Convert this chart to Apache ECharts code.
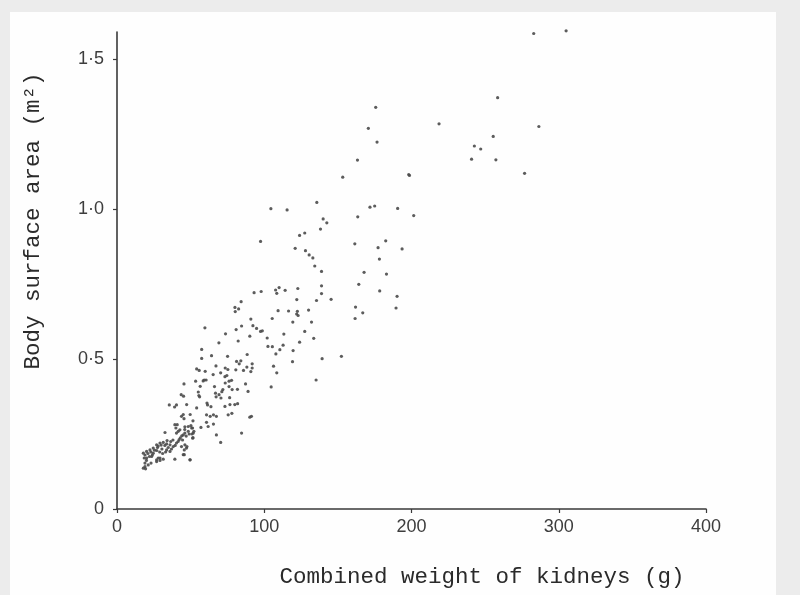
<!DOCTYPE html>
<html><head><meta charset="utf-8">
<script src="https://cdn.jsdelivr.net/npm/echarts@6/dist/echarts.min.js"></script>
<style>
html,body{margin:0;padding:0;background:#ececec;overflow:hidden;}
#paper{position:absolute;left:10px;top:12px;width:766px;height:583px;background:#fefefe;}
#chart{position:absolute;left:0;top:0;width:800px;height:595px;}
</style>
</head><body><div id="paper"></div><div id="chart"></div>
<script>
// tick values and labels
const xTicks = [0, 100, 200, 300, 400];
const yTicks = [0, 0.5, 1.0, 1.5];
const yTickLabels = ['0', '0·5', '1·0', '1·5'];
const xTitle = 'Combined weight of kidneys (g)';
const yTitle = 'Body surface area (m²)';

// [combined kidney weight (g), body surface area (m²)]
const pointsLarge = [
  [283,1.585],[305,1.594],[258.5,1.371],[218.7,1.284],[286.5,1.275],[255.5,1.242],[242.7,1.21],[247,1.2],
  [240.8,1.166],[257.3,1.164],[276.8,1.119],
  [175.7,1.339],[170.7,1.269],[176.6,1.223],[163.3,1.163],[153.3,1.106],[198.1,1.115],[198.6,1.112],
  [171.8,1.006],[175,1.01],[190.6,1.002],[163.5,0.974],[201.5,0.978],[140,0.967],[142.5,0.954],[138.2,0.933],
  [161.5,0.884],[182.5,0.894],[177.3,0.871],[193.6,0.867],[178.2,0.833],[138.9,0.792],[167.8,0.789],[183,0.783],
  [164.2,0.749],[138.9,0.744],[138.9,0.718],[145.4,0.699],[178.4,0.727],[190.2,0.709],[189.5,0.67],[162,0.673],
  [166.9,0.654],[161.7,0.635]
];
const pointsMid = [
  [104.5,1.001],[115.5,0.997],[135.7,1.022],[97.5,0.892],[124,0.912],[127.5,0.92],[121,0.869],[128,0.861],
  [130.5,0.847],[133,0.837],[134.3,0.81],
  [93.1,0.721],[97.9,0.725],[107.7,0.73],[110.1,0.738],[108.5,0.719],[114.2,0.729],[122.8,0.735],[122.1,0.698],
  [135.5,0.695],[84.3,0.691],[80.1,0.672],[82.6,0.667],[80.3,0.658],[109.4,0.661],[116.5,0.66],[122.5,0.659],
  [122,0.65],[123,0.645],[130.1,0.663],[105.4,0.635],[119.4,0.623],[132.1,0.623],[90.9,0.633],[84.6,0.61],
  [92.3,0.611],[94.8,0.602],[97.5,0.592],[98.7,0.594],[80.9,0.598],[113.3,0.583],[127.5,0.592],[90.2,0.576],
  [102,0.57],[133.6,0.569],[82.3,0.56],[124,0.556],[112.8,0.546],[102.5,0.542],[105.5,0.541],[110.6,0.531],
  [119.6,0.528],[107.9,0.517],[88.4,0.515],[152.4,0.509],[139.3,0.501],[119.2,0.491],[106.3,0.476],[108.5,0.454],
  [135.2,0.43],[104.7,0.407],
  [83,0.484],[88.2,0.473],[91.8,0.484],[91.8,0.47],[85.9,0.462],[80.7,0.464],[90.9,0.458],[77.8,0.429],[87.3,0.417]
];
const pointsSmall = [
  [59.7,0.604],[73.7,0.584],[69.2,0.554],[57.5,0.532],[57.5,0.502],[64.2,0.511],[75.1,0.509],[81.2,0.492],
  [84.1,0.494],[67.2,0.477],[73.5,0.47],[54.1,0.467],[55.8,0.462],[59.9,0.459],[70.4,0.454],[75.3,0.465],
  [74.6,0.445],[73.3,0.441],[76.1,0.426],[73.5,0.42],[76.1,0.408],[78.2,0.398],[71.9,0.398],
  [59.2,0.43],[58.5,0.427],[60.5,0.43],[53.4,0.426],[65.3,0.448],[45.5,0.417],[56.5,0.409],
  [66.2,0.408],[66.9,0.386],[69.3,0.381],[71.2,0.391],[67.3,0.374],[70.6,0.37],
  [81.8,0.399],[55.2,0.39],[55.6,0.378],[56.1,0.374],[43.6,0.381],[76.5,0.371],[89,0.392],
  [35.5,0.347],[39.1,0.34],[40.4,0.347],[47.3,0.348],[54.1,0.337],[61.1,0.353],[61.5,0.347],[63.8,0.341],
  [45,0.315],[43.8,0.309],[45.5,0.301],[49.7,0.315],[60.8,0.314],[63.3,0.309],[65.5,0.314],[51.6,0.294],
  [60.8,0.289],[57,0.272],[65.5,0.283],[39.3,0.281],[40,0.27],[41.6,0.259],[32.6,0.255],
  [67.5,0.309],[75.5,0.314],[73.3,0.342],[76.7,0.348],[80,0.348],[81.9,0.351],
  [61.9,0.275],[67.5,0.247],[70.4,0.222],[84.6,0.253],[91.3,0.309],[78,0.319],[90.2,0.306],[45.2,0.376]
];
const pointsDense = [
  [17.9,0.186],[20.1,0.192],[22.4,0.197],[24.6,0.203],[26.9,0.214],[29.2,0.22],[31.4,0.222],[33.7,0.217],
  [36,0.214],[38.2,0.208],[40.4,0.22],[42.2,0.231],[44,0.244],[46.1,0.253],[48.4,0.259],[50.7,0.27],
  [51.8,0.253],[51.4,0.236],[40.9,0.281],[42.7,0.264],[40.4,0.253],
  [19,0.18],[21,0.185],[23,0.19],[25.5,0.196],[27.5,0.205],[28,0.21],[30,0.213],[32.5,0.212],[34.8,0.205],
  [37,0.2],[39.5,0.212],[41.5,0.225],[43,0.237],[45,0.247],[47,0.243],[49,0.25],[44.5,0.23],[46,0.265],
  [38,0.23],[36.5,0.225],[34,0.228],[30.5,0.2],[27,0.195],[24,0.18],[22,0.175],[20,0.162],[18.5,0.17],
  [33,0.19],[31,0.185],[29,0.19],
  [20.1,0.17],[19,0.153],[17.9,0.136],[23.5,0.175],[26.9,0.164],[29.2,0.17],[31.4,0.166],[39.3,0.166],
  [45,0.181],[49.5,0.164],[24.6,0.186],[33.7,0.197],[36,0.192],[43.8,0.208],[46.1,0.214],[47.2,0.203],
  [28,0.17],[29.2,0.162],[26.9,0.158],[23.1,0.153],[21.2,0.147],[19,0.141],[19.4,0.134],
  [46.1,0.274],[48.4,0.275],[50.2,0.278],[51.3,0.27],[52.2,0.259],[50.9,0.25],[51.6,0.238],[47.5,0.208],
  [45.7,0.197],[49.7,0.164],[45.7,0.181]
];

const chart = echarts.init(document.getElementById('chart'), null, {renderer: 'canvas'});
const axisColor = '#3a3a3a';
const labelStyle = {color: '#3d3d3d', fontFamily: 'Liberation Sans', fontSize: 18};
const dotStyle = {color: '#4a4a4a', opacity: 0.9};
function series(data) {
  return {type: 'scatter', data: data, symbol: 'circle', symbolSize: 3.2, itemStyle: dotStyle, silent: true, clip: false};
}
chart.setOption({
  backgroundColor: 'transparent',
  animation: false,
  grid: {left: 117, right: 94, top: 32, bottom: 86, containLabel: false},
  xAxis: {
    type: 'value', min: 0, max: 400, interval: 100,
    axisLine: {show: true, lineStyle: {color: axisColor, width: 1.6}},
    axisTick: {show: true, length: 4, inside: false, lineStyle: {color: axisColor, width: 1.2}},
    axisLabel: Object.assign({margin: 9, customValues: xTicks, formatter: v => String(v)}, labelStyle),
    splitLine: {show: false}
  },
  yAxis: {
    type: 'value', min: 0, max: 1.59,
    axisLine: {show: true, lineStyle: {color: axisColor, width: 1.6}},
    axisTick: {show: true, length: 4, customValues: yTicks, lineStyle: {color: axisColor, width: 1.2}},
    axisLabel: Object.assign({margin: 13, customValues: yTicks,
      formatter: v => { const i = yTicks.findIndex(t => Math.abs(t - v) < 1e-6); return i >= 0 ? yTickLabels[i] : ''; }}, labelStyle),
    splitLine: {show: false}
  },
  graphic: [
    {type: 'text', x: 482, y: 577, style: {text: xTitle, fontFamily: 'Liberation Mono', fontSize: 22.5, fill: '#2a2a2a', textAlign: 'center', textVerticalAlign: 'middle'}},
    {type: 'text', x: 33, y: 221, rotation: Math.PI / 2, style: {text: yTitle, fontFamily: 'Liberation Mono', fontSize: 22.5, fill: '#2a2a2a', textAlign: 'center', textVerticalAlign: 'middle'}}
  ],
  series: [series(pointsLarge), series(pointsMid), series(pointsSmall), series(pointsDense)]
});
</script>
</body></html>
